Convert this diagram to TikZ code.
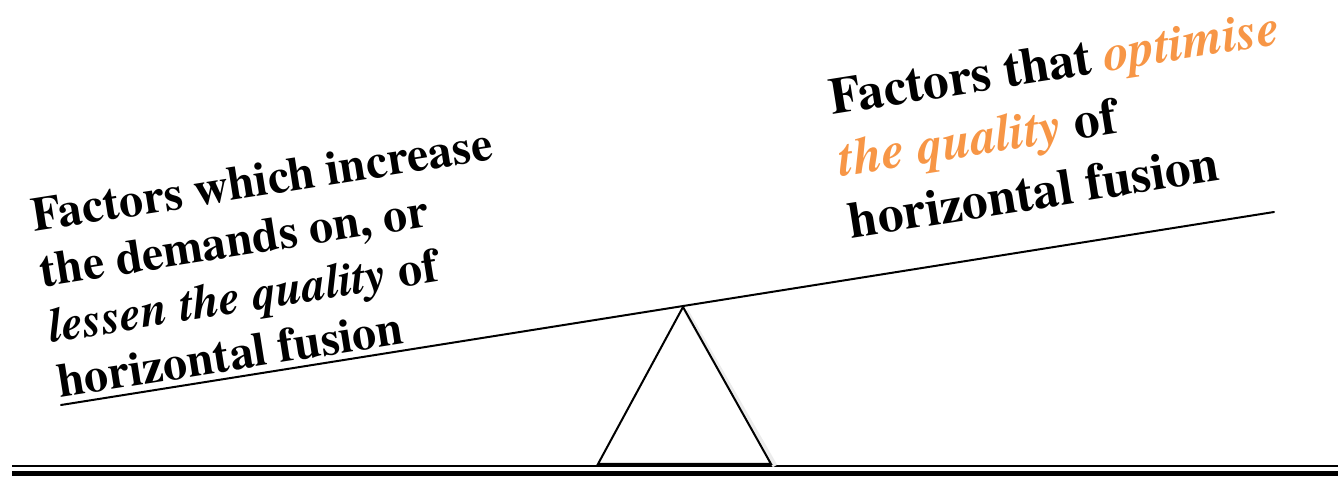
\documentclass[tikz,border=0pt]{standalone}
\usepackage{fontspec}
\setmainfont{texgyretermes}[Extension=.otf,UprightFont=*-regular,BoldFont=*-bold,ItalicFont=*-italic,BoldItalicFont=*-bolditalic]
\definecolor{accorange}{HTML}{F79646}
\begin{document}
\begin{tikzpicture}[x=1pt,y=1pt,
  lefttext/.style={anchor=base west,inner sep=0pt,font=\fontsize{48}{56}\selectfont\bfseries},
  righttext/.style={anchor=base west,inner sep=0pt,font=\fontsize{51.5}{62}\selectfont\bfseries},
  beam/.style={line width=2pt,line cap=round},
  ground/.style={line width=#1}]
\useasboundingbox (0,0) rectangle (1338,479);
% ground
\coordinate (g1a) at (12,13);
\coordinate (g1b) at (1338,13);
\coordinate (g2a) at (12,5.5);
\coordinate (g2b) at (1338,5.5);
\draw[ground=2.2pt] (g1a) -- (g1b);
\draw[ground=5pt] (g2a) -- (g2b);
% fulcrum shadow
\draw[gray!15,line width=5pt,line join=round] (686,168) -- (775,13);
% fulcrum
\coordinate (apex) at (683,172);
\coordinate (bl) at (598,15);
\coordinate (br) at (771,15);
\draw[line width=2pt,line join=miter] (apex) -- (br) -- (bl) -- cycle;
% beam
\coordinate (beamL) at (61,74);
\coordinate (beamR) at (1274,267);
\draw[beam] (beamL) -- (beamR);
% left text
\begin{scope}[shift={(34,247)},rotate=9,transform shape]
\node[lefttext] (l1) at (0,0) {Factors which increase};
\node[lefttext] (l2) at (0,-56) {the demands on, or};
\node[lefttext] (l3) at (0,-112) {\itshape lessen the quality\upshape{} of};
\node[lefttext] (l4) at (0,-168) {horizontal fusion};
\end{scope}
% right text
\begin{scope}[shift={(832,364)},rotate=9,transform shape]
\node[righttext] (r1) at (0,0) {Factors that \textcolor{accorange}{\itshape optimise}};
\node[righttext] (r2) at (0,-62.5) {\textcolor{accorange}{\itshape the quality} of};
\node[righttext] (r3) at (0,-125) {horizontal fusion};
\end{scope}
\end{tikzpicture}
\end{document}
